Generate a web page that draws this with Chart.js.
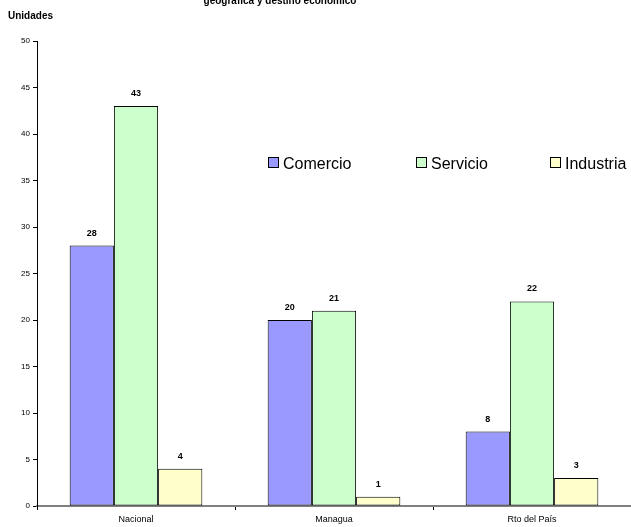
<!DOCTYPE html>
<html>
<head>
<meta charset="utf-8">
<script src="https://cdn.jsdelivr.net/npm/chart.js@4"></script>
<style>
  body { margin: 0; background: #fff; }
  #wrap { position: relative; width: 631px; height: 527px; overflow: hidden; font-family: "Liberation Sans", Arial, sans-serif; }
  #titulo { position: absolute; top: -5px; left: 0; width: 560px; text-align: center; font-size: 10px; font-weight: bold; color: #000; }
  #unidades { position: absolute; top: 10px; left: 8px; font-size: 10px; font-weight: bold; color: #000; }
  .ley { position: absolute; top: 155px; font-size: 16px; color: #000; white-space: nowrap; }
  .ley span { display: inline-block; width: 9px; height: 9px; border: 1px solid #000; margin-right: 4px; vertical-align: 1px; }
</style>
</head>
<body>
<div id="wrap">
  <canvas id="grafico" width="631" height="527"></canvas>
  <div id="titulo">geográfica y destino económico</div>
  <div id="unidades">Unidades</div>
  <div id="leyenda"></div>
</div>
<script>
// Datos del gráfico
const categorias = ['Nacional', 'Managua', 'Rto del País'];
const comercio = [28, 20, 8];
const servicio = [43, 21, 22];
const industria = [4, 1, 3];
const series = ['Comercio', 'Servicio', 'Industria'];
const colores = ['#9999FF', '#CCFFCC', '#FFFFCC'];
const posLeyenda = [268, 416, 550];

// Leyenda en HTML dentro del área del gráfico
const leyenda = document.getElementById('leyenda');
series.forEach((nombre, i) => {
    const div = document.createElement('div');
    div.className = 'ley';
    div.style.left = posLeyenda[i] + 'px';
    div.innerHTML = '<span style="background:' + colores[i] + '"></span>' + nombre;
    leyenda.appendChild(div);
});

// Plugin para las etiquetas encima de cada barra
const etiquetas = {
    id: 'etiquetas',
    afterDatasetsDraw(chart) {
        const ctx = chart.ctx;
        ctx.save();
        ctx.font = 'bold 9px "Liberation Sans", Arial, sans-serif';
        ctx.fillStyle = '#000';
        ctx.textAlign = 'center';
        ctx.textBaseline = 'bottom';
        chart.data.datasets.forEach((ds, i) => {
            chart.getDatasetMeta(i).data.forEach((bar, j) => {
                ctx.fillText(ds.data[j], bar.x, bar.y - 8);
            });
        });
        ctx.restore();
    }
};

const valores = [comercio, servicio, industria];
new Chart(document.getElementById('grafico'), {
    type: 'bar',
    data: {
        labels: categorias,
        datasets: series.map((nombre, i) => ({
            label: nombre,
            data: valores[i],
            backgroundColor: colores[i],
            borderColor: '#000',
            borderWidth: 1,
            borderSkipped: false,
            categoryPercentage: 0.67,
            barPercentage: 1
        }))
    },
    options: {
        responsive: false,
        animation: false,
        layout: { padding: { top: 41, right: 0, left: 0, bottom: 0 } },
        plugins: {
            legend: { display: false },
            tooltip: { enabled: false }
        },
        scales: {
            x: {
                offset: true,
                grid: { offset: true, drawOnChartArea: false, drawTicks: true, tickLength: 4, color: '#000' },
                border: { color: '#808080', width: 2 },
                ticks: { color: '#000', font: { size: 9, family: '"Liberation Sans", Arial, sans-serif' }, padding: 4 },
                afterFit: (s) => { s.height = 21; }
            },
            y: {
                min: 0,
                max: 50,
                ticks: { stepSize: 5, color: '#000', font: { size: 8, family: '"Liberation Sans", Arial, sans-serif' }, padding: 3 },
                grid: { drawOnChartArea: false, drawTicks: true, tickLength: 4, color: '#000' },
                border: { color: '#000', width: 1 },
                afterFit: (s) => { s.width = 37; }
            }
        }
    },
    plugins: [etiquetas]
});
</script>
</body>
</html>
